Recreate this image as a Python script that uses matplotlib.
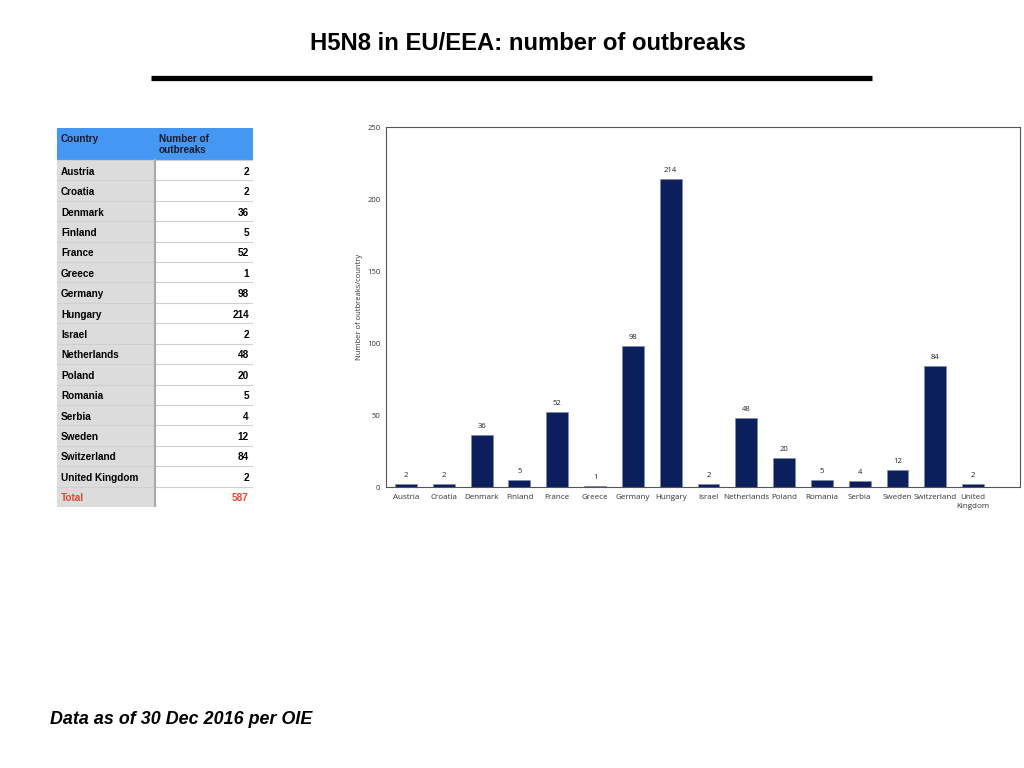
import matplotlib
matplotlib.use("Agg")
import matplotlib.pyplot as plt
from matplotlib.patches import Rectangle

countries = ["Austria", "Croatia", "Denmark", "Finland", "France", "Greece",
             "Germany", "Hungary", "Israel", "Netherlands", "Poland", "Romania",
             "Serbia", "Sweden", "Switzerland", "United Kingdom"]
outbreaks = [2, 2, 36, 5, 52, 1, 98, 214, 2, 48, 20, 5, 4, 12, 84, 2]
tick_labels = ["Austria", "Croatia", "Denmark", "Finland", "France", "Greece",
               "Germany", "Hungary", "Israel", "Netherlands", "Poland", "Romania",
               "Serbia", "Sweden", "Switzerland", "United\nKingdom"]

fig = plt.figure(figsize=(10.24, 7.68), dpi=100)

# title and rule
fig.text(528 / 1024, 1 - 43 / 768, "H5N8 in EU/EEA: number of outbreaks", ha="center",
         va="center", fontsize=17.2, fontweight="bold", family="Liberation Sans")
fig.add_artist(plt.Line2D([151 / 1024, 872 / 1024], [1 - 78 / 768, 1 - 78 / 768],
                          color="black", lw=3.8, solid_capstyle="butt"))

# table on the left, in pixel units
tab = fig.add_axes([57 / 1024, 1 - 507 / 768, 196 / 1024, 379 / 768])
tab.set_xlim(0, 196)
tab.set_ylim(379, 0)
tab.axis("off")
head_h = 32
row_h = (379 - head_h) / (len(countries) + 1)
div = 98
fs = 7.2
tab.add_patch(Rectangle((0, 0), 196, head_h, color="#4498f4", lw=0))
tab.text(4, 10.5, "Country", fontsize=fs, fontweight="bold", family="Liberation Sans",
         va="center", color="#1a1a2a")
tab.text(div + 4, 16.5, "Number of\noutbreaks", fontsize=fs, fontweight="bold",
         family="Liberation Sans", va="center", color="#1a1a2a", linespacing=1.2)
rows = list(zip(countries, outbreaks)) + [("Total", sum(outbreaks))]
for i, (name, val) in enumerate(rows):
    y0 = head_h + i * row_h
    tab.add_patch(Rectangle((0, y0), div, row_h, color="#dcdcdc", lw=0))
    tab.add_patch(Rectangle((div, y0), 196 - div, row_h, color="white", lw=0))
    tab.plot([0, 196], [y0, y0], color="#d0d0d0", lw=0.8)
    col = "#e8452c" if name == "Total" else "black"
    tab.text(4, y0 + row_h / 2 + 1.5, name, fontsize=fs, fontweight="bold",
             family="Liberation Sans", va="center", color=col)
    tab.text(192, y0 + row_h / 2 + 1.5, str(val), fontsize=fs, fontweight="bold",
             family="Liberation Sans", va="center", ha="right", color=col)
tab.plot([div, div], [head_h, 379], color="#a8a8a8", lw=1.5)
tab.plot([196, 196], [head_h, 379], color="#e0e0e0", lw=0.8)
tab.plot([0, 196], [379, 379], color="#e0e0e0", lw=0.8)

# bar chart
ax = fig.add_axes([386 / 1024, 1 - 487 / 768, 634 / 1024, 360 / 768])
x = range(len(countries))
ax.bar(x, outbreaks, width=0.58, color="#0b1f5c", edgecolor="#7f8aa8", lw=0.4)
for xi, v in zip(x, outbreaks):
    ax.text(xi, v + 3.5, str(v), ha="center", va="bottom", fontsize=5.5, color="#222222",
            family="Open Sans")
ax.set_xlim(-0.53, 16.24)
ax.set_ylim(0, 250)
ax.set_yticks([0, 50, 100, 150, 200, 250])
ax.set_xticks(list(x))
ax.set_xticklabels(tick_labels, fontsize=5.8, family="Open Sans", color="#333333",
                   linespacing=1.5)
ax.tick_params(axis="y", labelsize=5.5, length=0, pad=4, labelcolor="#333333")
ax.tick_params(axis="x", length=0, pad=5)
for lab in ax.get_yticklabels():
    lab.set_family("Open Sans")
for s in ax.spines.values():
    s.set_color("#555555")
    s.set_linewidth(0.8)
ax.set_ylabel("Number of outbreaks/country", fontsize=5.5, family="Open Sans",
              color="#333333", labelpad=3)

# footer
fig.text(50 / 1024, 1 - 719 / 768, "Data as of 30 Dec 2016 per OIE", fontsize=12.9,
         fontweight="bold", fontstyle="italic", family="Liberation Sans", va="center")

fig.savefig("out.png", dpi=100)
